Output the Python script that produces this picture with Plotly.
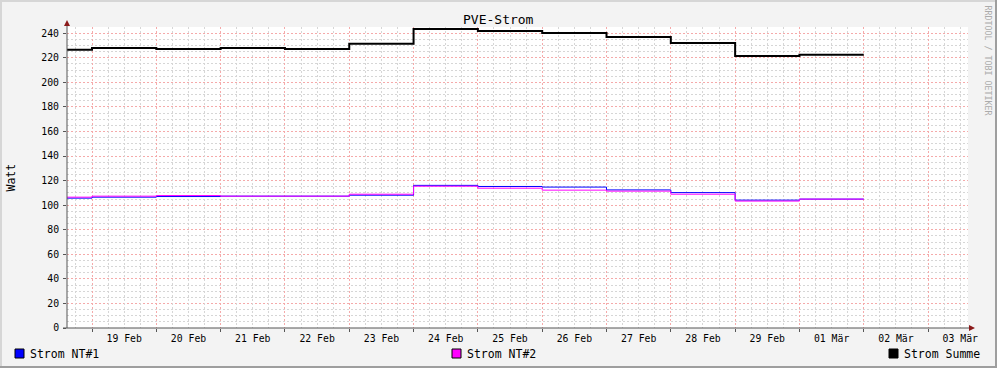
import plotly.graph_objects as go
import pandas as pd

# ---- data (daily averages, Watt) ----
seg_starts = ["2024-02-18 14:40", "2024-02-19 00:00", "2024-02-20 00:00", "2024-02-21 00:00",
              "2024-02-22 00:00", "2024-02-23 00:00", "2024-02-24 00:00", "2024-02-25 00:00",
              "2024-02-26 00:00", "2024-02-27 00:00", "2024-02-28 00:00", "2024-02-29 00:00",
              "2024-03-01 00:00"]
data_end = "2024-03-02 00:00"
strom_nt1 = [105.7, 106.5, 107.0, 107.3, 107.3, 108.1, 116.1, 115.2, 114.7, 112.4, 110.2, 104.1, 104.9]
strom_nt2 = [106.5, 107.3, 107.8, 107.3, 107.3, 108.9, 115.4, 113.8, 112.2, 111.4, 108.9, 103.3, 104.9]
strom_summe = [226.4, 227.9, 227.1, 227.9, 227.1, 231.4, 243.3, 241.7, 240.1, 236.8, 231.9, 221.4, 222.4]

label_dates = ["2024-02-19 12:00", "2024-02-20 12:00", "2024-02-21 12:00", "2024-02-22 12:00",
               "2024-02-23 12:00", "2024-02-24 12:00", "2024-02-25 12:00", "2024-02-26 12:00",
               "2024-02-27 12:00", "2024-02-28 12:00", "2024-02-29 12:00", "2024-03-01 12:00",
               "2024-03-02 12:00", "2024-03-03 12:00"]
label_texts = ["19 Feb", "20 Feb", "21 Feb", "22 Feb", "23 Feb", "24 Feb", "25 Feb", "26 Feb",
               "27 Feb", "28 Feb", "29 Feb", "01 Mär", "02 Mär", "03 Mär"]

series_names = ["Strom NT#1", "Strom NT#2", "Strom Summe"]
series_colors = ["#0000FF", "#FF00FF", "#000000"]
series_widths = [1, 1, 2]

x_range = ["2024-02-18 14:40", "2024-03-03 14:54"]
y_range = [0, 245]

# ---- layout geometry (pixels) ----
W, H = 997, 368
L, R, T, B = 67, 968, 27, 328
PW, PH = R - L, B - T


def px(x):
    return (x - L) / PW


def py(y):
    return (B - y) / PH


MONO = "DejaVu Sans Mono"
FMT = "%Y-%m-%d %H:%M"

fig = go.Figure()
xs = list(pd.to_datetime(seg_starts, format=FMT)) + [pd.to_datetime(data_end, format=FMT)]

# grid positions (layout only): minor grid excluding the major positions
x_minor = [t for t in pd.date_range("2024-02-18 00:00", "2024-03-04 00:00", freq="6h")
           if t.hour != 0]
y_minor = [v for v in range(0, 250, 5) if v % 20 != 0]

# invisible helper traces so that the grid-only overlay axes are drawn
fig.add_trace(go.Scatter(x=[xs[0]], y=[None], xaxis="x3", yaxis="y",
                         showlegend=False, hoverinfo="skip"))
fig.add_trace(go.Scatter(x=[xs[0]], y=[None], xaxis="x", yaxis="y2",
                         showlegend=False, hoverinfo="skip"))
fig.add_trace(go.Scatter(x=[xs[0]], y=[None], xaxis="x2", yaxis="y",
                         showlegend=False, hoverinfo="skip"))

for name, vals, col, w in zip(series_names, [strom_nt1, strom_nt2, strom_summe],
                              series_colors, series_widths):
    fig.add_trace(go.Scatter(x=xs, y=vals + [vals[-1]], mode="lines", name=name,
                             line=dict(color=col, width=w, shape="hv"),
                             showlegend=False, xaxis="x", yaxis="y"))

MAJ = "#F5AAAA"
MIN = "#D6D6D6"
MAJ_DASH = "2px,2px"
MIN_DASH = "2px,2px"

fig.update_layout(
    width=W, height=H,
    margin=dict(l=L, r=W - R, t=T, b=H - B, pad=0),
    paper_bgcolor="#F3F3F3", plot_bgcolor="#FFFFFF",
    font=dict(family=MONO, size=10, color="#000000"),
    # labels only
    xaxis=dict(type="date", range=x_range, tickmode="array",
               tickvals=label_dates, ticktext=label_texts,
               showgrid=False, zeroline=False, showline=False, ticks="",
               ticklabelstandoff=3,
               tickfont=dict(family=MONO, size=9.8, color="#000000")),
    # major day grid
    xaxis2=dict(type="date", range=x_range, overlaying="x", anchor="y", side="bottom",
                tick0="2024-02-19", dtick=86400000,
                showticklabels=False, showgrid=True, gridcolor=MAJ, griddash=MAJ_DASH,
                gridwidth=1, ticks="outside", ticklen=3, tickcolor="#555555",
                zeroline=False, showline=False),
    # minor 6h grid
    xaxis3=dict(type="date", range=x_range, overlaying="x", anchor="y", side="bottom",
                tickmode="array", tickvals=x_minor,
                showticklabels=False, showgrid=True, gridcolor=MIN, griddash=MIN_DASH,
                gridwidth=1, ticks="", zeroline=False, showline=False),
    yaxis=dict(range=y_range, tick0=0, dtick=20, showgrid=True, gridcolor=MAJ,
               griddash=MAJ_DASH, gridwidth=1, zeroline=False, showline=False,
               ticks="outside", ticklen=3, tickcolor="#555555", ticklabelstandoff=2,
               tickfont=dict(family=MONO, size=9.8, color="#000000")),
    yaxis2=dict(range=y_range, overlaying="y", anchor="x", side="left",
                tickmode="array", tickvals=y_minor,
                showticklabels=False, showgrid=True, gridcolor=MIN, griddash=MIN_DASH,
                gridwidth=1, ticks="", zeroline=False, showline=False),
)

shapes = []
AX = "#555555"
ARW = "#8B1A1A"
# axes lines
shapes.append(dict(type="line", xref="paper", yref="paper", x0=px(L), x1=px(L),
                   y0=py(B), y1=py(23), line=dict(color=AX, width=1)))
shapes.append(dict(type="line", xref="paper", yref="paper", x0=px(L - 4), x1=px(970),
                   y0=py(B), y1=py(B), line=dict(color=AX, width=1)))
# arrows
shapes.append(dict(type="path", xref="paper", yref="paper",
                   path=f"M {px(L)} {py(20)} L {px(L-3)} {py(26)} L {px(L+3)} {py(26)} Z",
                   fillcolor=ARW, line=dict(color=ARW, width=0)))
shapes.append(dict(type="path", xref="paper", yref="paper",
                   path=f"M {px(975)} {py(B)} L {px(969)} {py(B-3)} L {px(969)} {py(B+3)} Z",
                   fillcolor=ARW, line=dict(color=ARW, width=0)))
# frame
shapes.append(dict(type="rect", xref="paper", yref="paper", x0=px(0), x1=px(2),
                   y0=py(0), y1=py(H), fillcolor="#D6D6D6", line=dict(width=0)))
shapes.append(dict(type="rect", xref="paper", yref="paper", x0=px(0), x1=px(W),
                   y0=py(0), y1=py(2), fillcolor="#D6D6D6", line=dict(width=0)))
shapes.append(dict(type="rect", xref="paper", yref="paper", x0=px(W - 2), x1=px(W),
                   y0=py(0), y1=py(H), fillcolor="#9E9E9E", line=dict(width=0)))
shapes.append(dict(type="rect", xref="paper", yref="paper", x0=px(0), x1=px(W),
                   y0=py(H - 2), y1=py(H), fillcolor="#9E9E9E", line=dict(width=0)))

annotations = []
# title
annotations.append(dict(text="PVE-Strom", xref="paper", yref="paper", x=px(498), y=py(19.5),
                        xanchor="center", yanchor="middle", showarrow=False,
                        font=dict(family=MONO, size=13, color="#000000")))
# y title
annotations.append(dict(text="Watt", xref="paper", yref="paper", x=px(10.5), y=py(178),
                        xanchor="center", yanchor="middle", showarrow=False, textangle=-90,
                        font=dict(family=MONO, size=11.5, color="#000000")))
# watermark
annotations.append(dict(text="RRDTOOL / TOBI OETIKER", xref="paper", yref="paper",
                        x=px(987.5), y=py(60), xanchor="center", yanchor="middle",
                        showarrow=False, textangle=90,
                        font=dict(family=MONO, size=8.3, color="#ABABAB")))
# legend
legend_box_x = [15, 452, 889]
legend_text_x = [28, 465, 902]
for name, col, bx, tx in zip(series_names, series_colors, legend_box_x, legend_text_x):
    shapes.append(dict(type="rect", xref="paper", yref="paper", x0=px(bx), x1=px(bx + 9),
                       y0=py(349), y1=py(358), fillcolor=col,
                       line=dict(color="#000000", width=1)))
    annotations.append(dict(text=name, xref="paper", yref="paper", x=px(tx), y=py(354),
                            xanchor="left", yanchor="middle", showarrow=False,
                            font=dict(family=MONO, size=11.5, color="#000000")))

fig.update_layout(shapes=shapes, annotations=annotations)
fig.write_html("out.html")
